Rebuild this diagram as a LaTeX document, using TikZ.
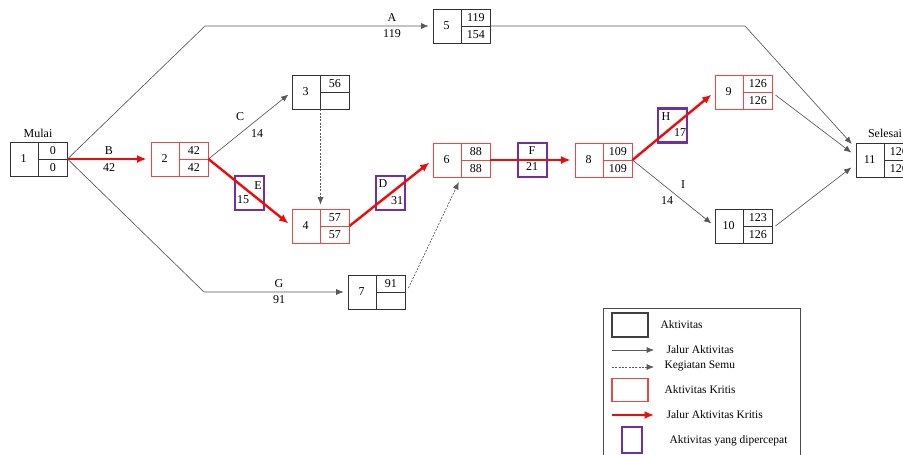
\documentclass[tikz,border=0pt]{standalone}
\usepackage{fontspec}
\setmainfont{Liberation Serif}
\usepackage{tikz}
\usetikzlibrary{arrows.meta,positioning,calc}

\definecolor{kritis}{RGB}{232,72,72}
\definecolor{jalurmerah}{RGB}{240,10,10}
\definecolor{ungu}{RGB}{112,48,160}

% event box: name, style, position, number, earliest, latest
\newcommand{\eventbox}[6]{%
  \node[#2] (#1) at (#3) {};
  \node (#1n) at ([xshift=10.5pt]#1.west) {#4};
  \node (#1e) at ([xshift=-10.9pt,yshift=6.4pt]#1.east) {#5};
  \node (#1l) at ([xshift=-10.9pt,yshift=-6.4pt]#1.east) {#6};
}

\begin{document}
\begin{tikzpicture}[x=0.75pt, y=-0.75pt, every node/.style={font=\fontsize{9}{10}\selectfont, inner sep=1pt}, >=Latex,
  evbox/.style={draw=#1, line width=0.7pt, minimum width=42.75pt, minimum height=25.5pt, inner sep=0pt,
    path picture={\draw[#1, line width=0.7pt]
      ([xshift=21pt]path picture bounding box.north west) -- ([xshift=21pt]path picture bounding box.south west)
      ([xshift=21pt]path picture bounding box.west) -- (path picture bounding box.east);}},
  act/.style={evbox=black!80},
  critact/.style={evbox=kritis},
  crash/.style={draw=ungu, line width=1.8pt, minimum width=21.75pt, minimum height=25.5pt, inner sep=0pt},
  actline/.style={->, black!65, line width=0.5pt, >={Latex[length=5.5pt,width=4.5pt]}, shorten >=3pt},
  dummyline/.style={actline, dash pattern=on 1.5pt off 1pt},
  critline/.style={->, jalurmerah, line width=1.8pt, >={Latex[length=7pt,width=6pt]}, shorten >=3pt},
  legtext/.style={anchor=west, font=\fontsize{8.6}{9}\selectfont}]
\useasboundingbox (0,0) rectangle (903,454);
\clip (0,0) rectangle (903,454);

% events
\eventbox{n1}{act}{38.5,159}{1}{0}{0}
\eventbox{n2}{critact}{179.5,159}{2}{42}{42}
\eventbox{n3}{act}{320.5,92}{3}{56}{}
\eventbox{n4}{critact}{320.5,226}{4}{57}{57}
\eventbox{n5}{act}{461.5,26}{5}{119}{154}
\eventbox{n6}{critact}{461.5,160}{6}{88}{88}
\eventbox{n7}{act}{376.5,292}{7}{91}{}
\eventbox{n8}{critact}{603.5,160}{8}{109}{109}
\eventbox{n9}{critact}{743.5,92}{9}{126}{126}
\eventbox{n10}{act}{743.5,226}{10}{123}{126}
\eventbox{n11}{act}{884.5,160}{11}{126}{126}
\node (mulai) at (38,133) {Mulai};
\node (selesai) at (885,133) {Selesai};

% crashed activities
\node[crash] (cE) at (249.5,193) {};
\node (cEa) at (258,186) {E};
\node (cEb) at (243,200) {15};
\node[crash] (cD) at (390.5,193) {};
\node (cDa) at (383,184) {D};
\node (cDb) at (397,201) {31};
\node[crash] (cF) at (532.5,160) {};
\node (cFa) at (532,151) {F};
\node (cFb) at (532,167) {21};
\node[crash] (cH) at (672.5,125.5) {};
\node (cHa) at (666,117) {H};
\node (cHb) at (680,133) {17};

% activity paths
\coordinate (kA) at (205,26);
\coordinate (kA2) at (745,26);
\coordinate (kG) at (204,292);
\draw[actline] (n1.east) -- (kA) -- (n5.west);
\node (lA) at (392,18) {A};
\node (dA) at (392,34) {119};
\draw[actline] (n5.east) -- (kA2) -- ($(n11.west)+(-1,-13)$);
\draw[actline] (n2.east) -- (n3.west);
\node (lC) at (240,117) {C};
\node (dC) at (257,134) {14};
\draw[dummyline] (n3.south) -- (n4.north);
\draw[actline] (n1.east) -- (kG) -- (n7.west);
\node (lG) at (279,284) {G};
\node (dG) at (279,300) {91};
\draw[dummyline] ($(n7.east)+(3,-4)$) -- ($(n6.south)+(-1,1)$);
\draw[actline] (n8.east) -- (n10.west);
\node (lI) at (683,185) {I};
\node (dI) at (667,201) {14};
\draw[actline] ($(n9.east)+(3,3)$) -- ($(n11.west)+(-1,-5)$);
\draw[actline] ($(n10.east)+(3,0)$) -- ($(n11.west)+(-1,5)$);

% critical path
\draw[critline] (n1.east) -- (n2.west);
\node (lB) at (109,151) {B};
\node (dB) at (109,168) {42};
\draw[critline] (n2.east) -- (n4.west);
\draw[critline] (n4.east) -- (n6.west);
\draw[critline] (n6.east) -- (n8.west);
\draw[critline] (n8.east) -- (n9.west);

% legend
\draw[black!70, line width=0.6pt] (603,308) rectangle (800,470);
\node[draw=black!75, line width=0.9pt, minimum width=27pt, minimum height=18pt, inner sep=0pt] (lgAct) at (630,325) {};
\node[legtext] (tAct) at (659,325) {Aktivitas};
\coordinate (lgLa) at (612,350);
\coordinate (lgLb) at (654,350);
\draw[actline, shorten >=0pt] (lgLa) -- (lgLb);
\node[legtext] (tLine) at (665,350) {Jalur Aktivitas};
\coordinate (lgDa) at (612,367);
\coordinate (lgDb) at (654,367);
\draw[dummyline, shorten >=0pt] (lgDa) -- (lgDb);
\node[legtext] (tDummy) at (663,366) {Kegiatan Semu};
\node[draw=kritis, line width=0.8pt, minimum width=27pt, minimum height=17pt, inner sep=0pt] (lgCrit) at (630,390) {};
\node[legtext] (tCrit) at (663,390) {Aktivitas Kritis};
\coordinate (lgCa) at (612,415);
\coordinate (lgCb) at (654,415);
\draw[critline, shorten >=0pt] (lgCa) -- (lgCb);
\node[legtext] (tCritLine) at (665,415) {Jalur Aktivitas Kritis};
\node[draw=ungu, line width=1.6pt, minimum width=15pt, minimum height=19pt, inner sep=0pt] (lgFast) at (632,440) {};
\node[legtext] (tFast) at (668,441) {Aktivitas yang dipercepat};
\end{tikzpicture}
\end{document}
